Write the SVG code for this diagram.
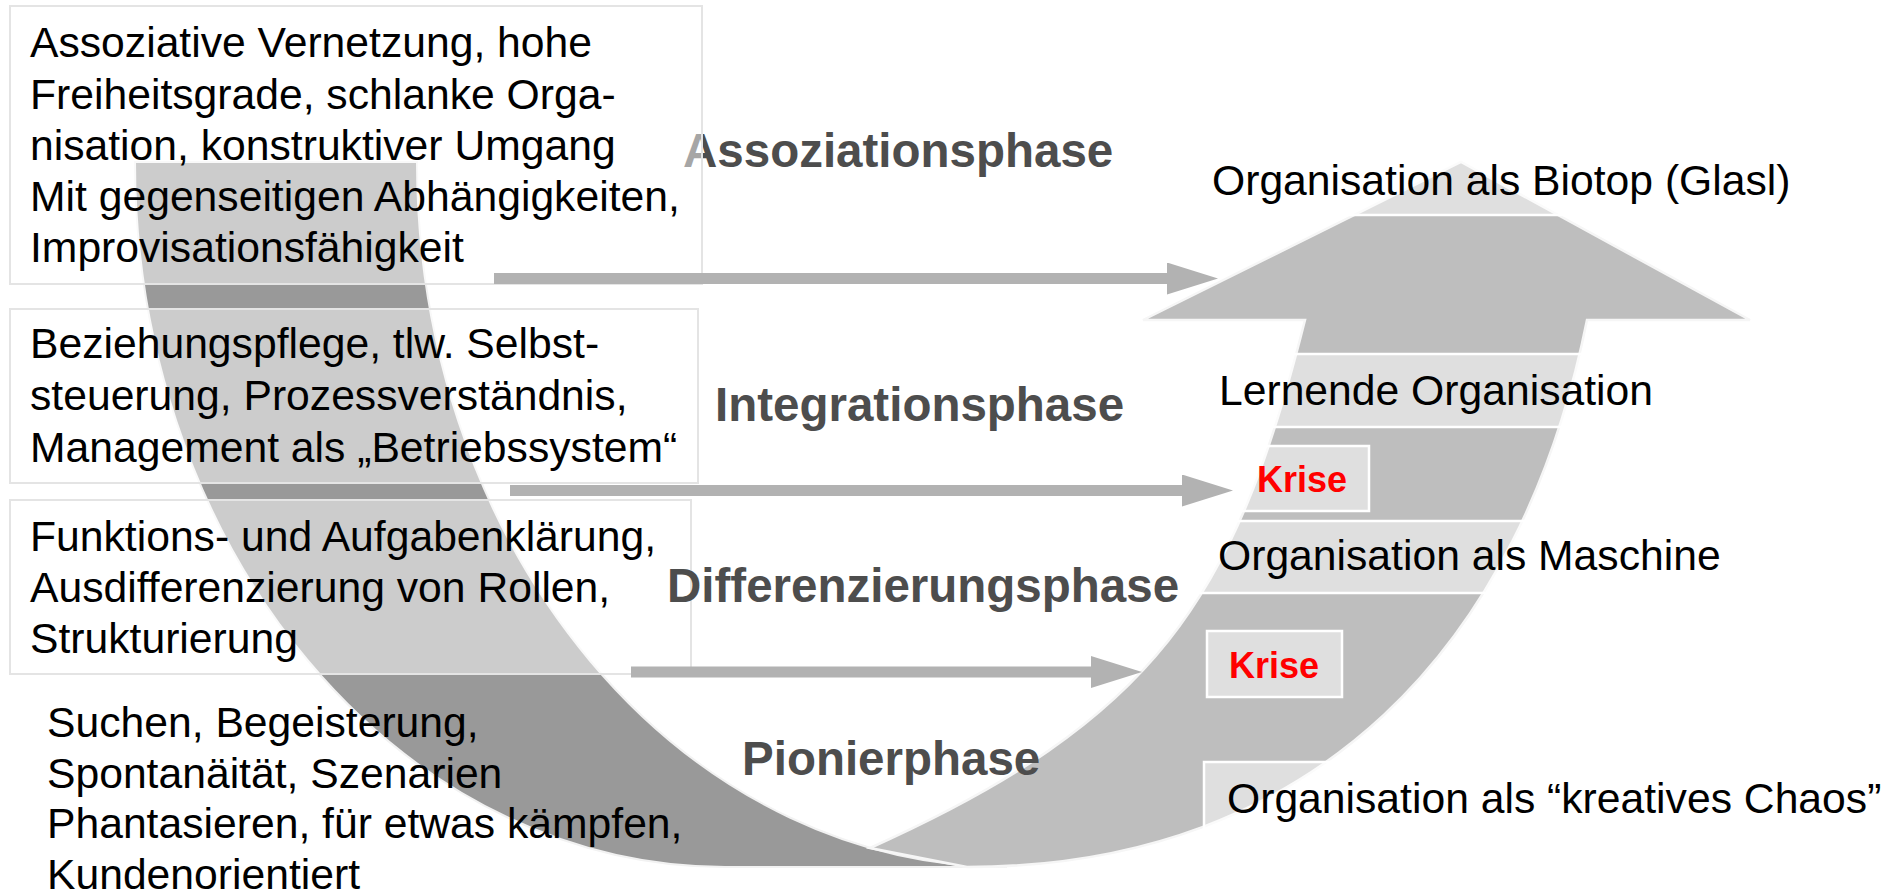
<svg xmlns="http://www.w3.org/2000/svg" width="1901" height="896" viewBox="0 0 1901 896">
<style>
  .bg{fill:#ffffff}
  .dark{fill:#999999;stroke:#f2f2f2;stroke-width:2}
  .light{fill:#bebebe;stroke:#f6f6f6;stroke-width:2.5;stroke-linejoin:miter}
  .lbox{fill:#ffffff;fill-opacity:0.5;stroke:#e4e4e4;stroke-width:2}
  .rbox{fill:#ffffff;fill-opacity:0.5;stroke:#ffffff;stroke-width:2.5}
  .body{font-family:"Liberation Sans",Arial,sans-serif;font-size:42.67px;fill:#000000}
  .phase{font-family:"Liberation Sans",Arial,sans-serif;font-size:47.5px;font-weight:bold;fill:#4d4d4d}
  .krise{font-family:"Liberation Sans",Arial,sans-serif;font-size:36px;font-weight:bold;fill:#ff0000}
  .conn{stroke:#b2b2b2;stroke-width:11;fill:none}
</style>
<defs>
  <marker id="head" viewBox="0 0 51 32" markerWidth="51" markerHeight="32" refX="0" refY="16" markerUnits="userSpaceOnUse" orient="auto">
    <path d="M0,0 L51,16 L0,32 Z" fill="#b2b2b2"/>
  </marker>
</defs>
<rect class="bg" x="0" y="0" width="1901" height="896"/>

<g id="curved-arrow">
  <path class="dark" d="M135,162 L417,162 A590,705 0 0,0 1007,867 L725,867 A590,705 0 0,1 135,162 Z"/>
  <path class="light" d="M870,848 C1155,720 1235,600 1305,320 L1143,320 L1461,162 L1750,320 L1587,320 C1522,644 1317,867 967,867 Z"/>
</g>

<g id="phase-assoziation">
  <text class="phase" x="683" y="167">Assoziationsphase</text>
</g>

<g id="box-assoziation">
  <rect class="lbox" x="10" y="6" width="692" height="278"/>
  <text class="body">
    <tspan x="30" y="57">Assoziative Vernetzung, hohe</tspan>
    <tspan x="30" y="108.5">Freiheitsgrade, schlanke Orga-</tspan>
    <tspan x="30" y="160">nisation, konstruktiver Umgang</tspan>
    <tspan x="30" y="211">Mit gegenseitigen Abhängigkeiten,</tspan>
    <tspan x="30" y="262">Improvisationsfähigkeit</tspan>
  </text>
</g>

<g id="box-integration">
  <rect class="lbox" x="10" y="309" width="688" height="174"/>
  <text class="body">
    <tspan x="30" y="358">Beziehungspflege, tlw. Selbst-</tspan>
    <tspan x="30" y="410">steuerung, Prozessverständnis,</tspan>
    <tspan x="30" y="462">Management als „Betriebssystem“</tspan>
  </text>
</g>

<g id="box-differenzierung">
  <rect class="lbox" x="10" y="500" width="681" height="174"/>
  <text class="body">
    <tspan x="30" y="551">Funktions- und Aufgabenklärung,</tspan>
    <tspan x="30" y="602">Ausdifferenzierung von Rollen,</tspan>
    <tspan x="30" y="653">Strukturierung</tspan>
  </text>
</g>

<g id="text-pionier">
  <text class="body">
    <tspan x="47" y="737">Suchen, Begeisterung,</tspan>
    <tspan x="47" y="788">Spontanäität, Szenarien</tspan>
    <tspan x="47" y="838">Phantasieren, für etwas kämpfen,</tspan>
    <tspan x="47" y="889">Kundenorientiert</tspan>
  </text>
</g>

<g id="phase-integration">
  <text class="phase" x="715" y="421">Integrationsphase</text>
</g>
<g id="phase-differenzierung">
  <text class="phase" x="667" y="602">Differenzierungsphase</text>
</g>
<g id="phase-pionier">
  <text class="phase" x="742" y="775">Pionierphase</text>
</g>

<g id="stage-biotop">
  <rect class="rbox" x="1189" y="142" width="622" height="73"/>
  <text class="body" x="1212" y="195">Organisation als Biotop (Glasl)</text>
</g>
<g id="stage-lernend">
  <rect class="rbox" x="1196" y="354" width="479" height="73"/>
  <text class="body" x="1219" y="405">Lernende Organisation</text>
</g>
<g id="krise-1">
  <rect class="rbox" x="1235" y="446" width="134" height="65"/>
  <text class="krise" x="1257" y="492">Krise</text>
</g>
<g id="stage-maschine">
  <rect class="rbox" x="1195" y="521" width="547" height="72"/>
  <text class="body" x="1218" y="570">Organisation als Maschine</text>
</g>
<g id="krise-2">
  <rect class="rbox" x="1207" y="631" width="135" height="66"/>
  <text class="krise" x="1229" y="678">Krise</text>
</g>
<g id="stage-chaos">
  <rect class="rbox" x="1204" y="762" width="694" height="73"/>
  <text class="body" x="1227" y="813">Organisation als “kreatives Chaos”</text>
</g>

<g id="connectors">
  <line class="conn" x1="494" y1="278.5" x2="1167" y2="278.5" marker-end="url(#head)"/>
  <line class="conn" x1="510" y1="490.5" x2="1182" y2="490.5" marker-end="url(#head)"/>
  <line class="conn" x1="631" y1="672" x2="1091" y2="672" marker-end="url(#head)"/>
</g>
</svg>
